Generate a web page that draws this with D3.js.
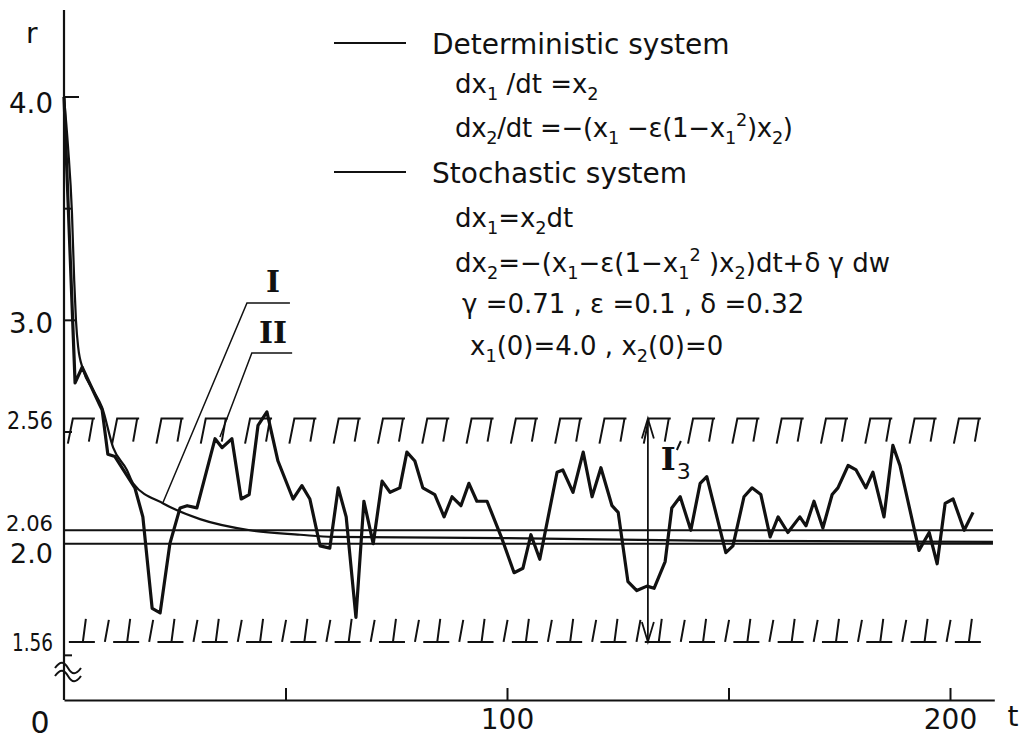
<!DOCTYPE html>
<html>
<head>
<meta charset="utf-8">
<script src="https://cdn.jsdelivr.net/npm/d3@7"></script>
<style>
  body { margin: 0; background: #fff; }
  text { font-family: "DejaVu Sans", sans-serif; fill: #111; }
  .serif { font-family: "DejaVu Serif", "Liberation Serif", serif; font-weight: bold; }
</style>
</head>
<body>
<script>
// deterministic system (curve I)
const tDet = [0, 0.9, 1.8, 2.3, 2.7, 3.2, 4.3, 6.5, 8.6, 11.1, 14.2, 15.6, 22.4, 30.7, 42, 53.3, 60.7, 98.4, 143.6, 209.7];
const rDet = [4.0, 3.78, 3.48, 3.18, 3.0, 2.88, 2.78, 2.69, 2.61, 2.43, 2.33, 2.27, 2.18, 2.11, 2.06, 2.04, 2.03, 2.025, 2.014, 2.008];

// stochastic system (curve II)
const tSto = [0, 2.5, 4.1, 8.1, 8.6, 9.9, 11.5, 16.0, 17.8, 19.9, 21.7, 23.9, 26.2, 27.8, 30.0, 34.1, 35.7, 37.9, 40.0, 41.8,
  43.8, 45.8, 48.3, 51.7, 53.7, 55.5, 57.8, 60.0, 61.9, 63.7, 65.9, 67.7, 69.8, 71.8, 73.6, 75.8, 77.4, 79.2, 81.0, 83.7,
  85.8, 87.6, 89.6, 91.4, 93.2, 95.5, 98.9, 101.6, 103.6, 105.4, 107.4, 111.3, 112.6, 114.9, 117.2, 119.2, 121.2, 123.7, 125.1, 127.3,
  129.3, 131.6, 133.2, 135.7, 137.2, 139.1, 141.5, 143.6, 145.1, 149.4, 151.0, 153.5, 155.3, 157.3, 159.4, 161.2, 163.4, 166.1, 167.5, 169.3,
  171.3, 173.4, 174.7, 177.0, 178.8, 181.0, 182.6, 185.1, 187.1, 188.7, 193.0, 195.3, 197.1, 198.9, 200.7, 203.2, 205.2];
const rSto = [4.0, 2.72, 2.79, 2.62, 2.60, 2.40, 2.39, 2.25, 2.12, 1.71, 1.69, 2.00, 2.16, 2.17, 2.16, 2.47, 2.43, 2.47, 2.20, 2.22,
  2.53, 2.59, 2.37, 2.20, 2.26, 2.20, 1.99, 1.98, 2.25, 2.12, 1.67, 2.19, 2.00, 2.28, 2.23, 2.25, 2.41, 2.37, 2.25, 2.22,
  2.12, 2.21, 2.17, 2.27, 2.19, 2.19, 2.02, 1.87, 1.89, 2.04, 1.93, 2.32, 2.33, 2.23, 2.41, 2.21, 2.34, 2.17, 2.14, 1.83,
  1.79, 1.81, 1.80, 1.92, 2.16, 2.21, 2.06, 2.27, 2.30, 1.96, 1.99, 2.21, 2.25, 2.22, 2.03, 2.12, 2.05, 2.12, 2.08, 2.19,
  2.07, 2.22, 2.25, 2.35, 2.33, 2.25, 2.32, 2.12, 2.44, 2.35, 1.97, 2.05, 1.91, 2.18, 2.20, 2.06, 2.14];

// reference levels and band limits
const levels = [2.06, 2.0];
const bandTop = 2.56, bandBottom = 1.56;

// axes
const xTicks = [50, 100, 150, 200];
const xTickLabels = {100: "100", 200: "200"};
const yTicks = [4.0, 3.5, 3.0, 2.5, 1.5];
const yLabels = [
  {v: 4.0, text: "4.0", size: 28, dy: 16, w: 44},
  {v: 3.0, text: "3.0", size: 28, dy: 13, w: 44},
  {v: 2.56, text: "2.56", size: 24, dy: 10, w: 46},
  {v: 2.06, text: "2.06", size: 22, dy: 1, w: 47},
  {v: 2.0, text: "2.0", size: 27, dy: 19, w: 43},
  {v: 1.56, text: "1.56", size: 24, dy: 9, w: 41}
];

const svg = d3.select("body").append("svg")
  .attr("width", 1025)
  .attr("height", 739);

const x = d3.scaleLinear().domain([0, 210]).range([64, 994.3]);
const y = d3.scaleLinear().domain([1.3, 4.0]).range([700, 97]);

// y axis line (broken, r starts from 0 at the origin)
svg.append("line")
  .attr("x1", 64).attr("x2", 64)
  .attr("y1", y(1.3)).attr("y2", y(4.39))
  .attr("stroke", "#111").attr("stroke-width", 2.2);

// inward y ticks
const tickLen = {4: 15, 3.5: 8, 3: 12, 2.5: 8, 1.5: 8};
svg.append("g").selectAll("line")
  .data(yTicks).enter().append("line")
  .attr("x1", 64).attr("x2", d => 64 + tickLen[d])
  .attr("y1", d => y(d)).attr("y2", d => y(d))
  .attr("stroke", "#111").attr("stroke-width", 2);

svg.append("g").selectAll("text")
  .data(yLabels).enter().append("text")
  .attr("x", d => 53 - d.w).attr("y", d => y(d.v) + d.dy)
  .attr("font-size", d => d.size)
  .attr("textLength", d => d.w)
  .attr("lengthAdjust", "spacingAndGlyphs")
  .text(d => d.text);

svg.append("text").attr("x", 26).attr("y", 43).attr("font-size", 28).text("r");

// axis break symbol
[0, 8].forEach(off => {
  svg.append("path")
    .attr("d", `M55,${668 + off} C60,${661 + off} 64,${661 + off} 68,${668 + off} S76,${675 + off} 81,${668 + off}`)
    .attr("fill", "none").attr("stroke", "#111").attr("stroke-width", 2);
});

// x axis
const xAxis = d3.axisBottom(x)
  .tickValues(xTicks)
  .tickSize(-12)
  .tickSizeOuter(0)
  .tickPadding(9)
  .tickFormat(d => xTickLabels[d] || "");
const gx = svg.append("g").attr("transform", "translate(0,700)").call(xAxis);
gx.select(".domain").attr("stroke", "#111").attr("stroke-width", 2.2);
gx.selectAll(".tick line").attr("stroke", "#111").attr("stroke-width", 2);
gx.selectAll(".tick text")
  .attr("font-family", "DejaVu Sans").attr("font-size", 28).attr("fill", "#111");

svg.append("text").attr("x", 40).attr("y", 733).attr("text-anchor", "middle").attr("font-size", 30).text("0");
svg.append("text").attr("x", 1013).attr("y", 726).attr("text-anchor", "middle").attr("font-size", 28).text("t");

// horizontal reference lines
svg.append("g").selectAll("line")
  .data(levels).enter().append("line")
  .attr("x1", x(0)).attr("x2", x(209.7))
  .attr("y1", d => y(d)).attr("y2", d => y(d))
  .attr("stroke", "#111").attr("stroke-width", 2);

// band markers: top (2.56) and bottom (1.56)
const marks = d3.range(2, 203, 10);
const yT = y(bandTop), yB = y(bandBottom);
svg.append("g").selectAll("path")
  .data(marks).enter().append("path")
  .attr("d", d => {
    const x0 = x(d);
    return `M${x0 - 5},${yT + 25}L${x0},${yT}L${x0 + 22},${yT}M${x0 + 20},${yT}L${x0 + 16},${yT + 23}`;
  })
  .attr("fill", "none").attr("stroke", "#111").attr("stroke-width", 2);
svg.append("g").selectAll("path")
  .data(marks).enter().append("path")
  .attr("d", (d, i) => {
    const x0 = x(d);
    let p = `M${x0 - 4},${yB}L${x0 + 22},${yB}M${x0 + 13},${yB - 23}L${x0 + 10},${yB}`;
    if (i < marks.length - 1) p += `M${x0 + 36},${yB - 22}L${x0 + 32},${yB}`;
    return p;
  })
  .attr("fill", "none").attr("stroke", "#111").attr("stroke-width", 2);

// curves
const detLine = d3.line().x(d => x(d[0])).y(d => y(d[1])).curve(d3.curveMonotoneX);
svg.append("path")
  .datum(tDet.map((t, i) => [t, rDet[i]]))
  .attr("d", detLine)
  .attr("fill", "none").attr("stroke", "#111").attr("stroke-width", 2.2);

const stoLine = d3.line().x(d => x(d[0])).y(d => y(d[1]));
svg.append("path")
  .datum(tSto.map((t, i) => [t, rSto[i]]))
  .attr("d", stoLine)
  .attr("fill", "none").attr("stroke", "#111").attr("stroke-width", 3.2)
  .attr("stroke-linejoin", "round");

// leaders I and II
const leaders = [
  {label: "I", pts: [[51.0, 3.078], [41.3, 3.078], [22.3, 2.182]], ly: 292},
  {label: "II", pts: [[51.5, 2.854], [42.4, 2.854], [35.2, 2.478]], ly: 343}
];
leaders.forEach(l => {
  svg.append("path")
    .attr("d", d3.line().x(d => x(d[0])).y(d => y(d[1]))(l.pts))
    .attr("fill", "none").attr("stroke", "#111").attr("stroke-width", 1.5);
  svg.append("text").attr("class", "serif")
    .attr("x", 273).attr("y", l.ly)
    .attr("text-anchor", "middle").attr("font-size", 30)
    .text(l.label);
});

// interval I'3 arrow
const xa = x(131.8);
svg.append("line")
  .attr("x1", xa).attr("x2", xa).attr("y1", yT).attr("y2", yB)
  .attr("stroke", "#111").attr("stroke-width", 1.8);
svg.append("path")
  .attr("d", `M${xa - 6},${yT + 20}L${xa},${yT}L${xa + 6},${yT + 20}M${xa - 6},${yB - 20}L${xa},${yB}L${xa + 6},${yB - 20}`)
  .attr("fill", "none").attr("stroke", "#111").attr("stroke-width", 1.8);
const lab = svg.append("text").attr("x", xa + 13).attr("y", 470);
lab.append("tspan").attr("class", "serif").attr("font-size", 32).text("I");
lab.append("tspan").attr("font-size", 22).attr("dx", 1).attr("dy", 9).text("3");
// prime mark
svg.append("path")
  .attr("d", `M${xa + 33},${441}L${xa + 29},${450}`)
  .attr("fill", "none").attr("stroke", "#111").attr("stroke-width", 2);

// legend
function rich(xp, yp, size, parts) {
  const t = svg.append("text").attr("x", xp).attr("y", yp).attr("font-size", size);
  let cur = 0;
  parts.forEach(p => {
    const str = typeof p === "string" ? p : p[0];
    const mode = typeof p === "string" ? null : p[1];
    const off = mode === "sub" ? 7 : mode === "sup" ? -11 : 0;
    t.append("tspan")
      .attr("dy", off - cur)
      .attr("font-size", mode ? size * 0.68 : size)
      .text(str);
    cur = off;
  });
  return t;
}

[[43, "Deterministic system"], [172, "Stochastic system"]].forEach(([yy, txt]) => {
  svg.append("line").attr("x1", 334).attr("x2", 406).attr("y1", yy).attr("y2", yy)
    .attr("stroke", "#111").attr("stroke-width", 2);
  svg.append("text").attr("x", 432).attr("y", yy + 11).attr("font-size", 28).text(txt);
});

rich(455, 93, 26, ["dx", ["1", "sub"], " /dt =x", ["2", "sub"]]);
rich(455, 137, 26, ["dx", ["2", "sub"], "/dt =\u2212(x", ["1", "sub"], " \u2212\u03b5(1\u2212x", ["1", "sub"], ["2", "sup"], ")x", ["2", "sub"], ")"])
  .attr("textLength", 338).attr("lengthAdjust", "spacing");
rich(455, 227, 26, ["dx", ["1", "sub"], "=x", ["2", "sub"], "dt"]);
rich(455, 272, 26, ["dx", ["2", "sub"], "=\u2212(x", ["1", "sub"], "\u2212\u03b5(1\u2212x", ["1", "sub"], ["2", "sup"], " )x", ["2", "sub"], ")dt+\u03b4 \u03b3 dw"]);
rich(462, 313, 26, ["\u03b3 =0.71 ,  \u03b5 =0.1 ,  \u03b4 =0.32"]);
rich(470, 355, 26, ["x", ["1", "sub"], "(0)=4.0  ,  x", ["2", "sub"], "(0)=0"]);
</script>
</body>
</html>
